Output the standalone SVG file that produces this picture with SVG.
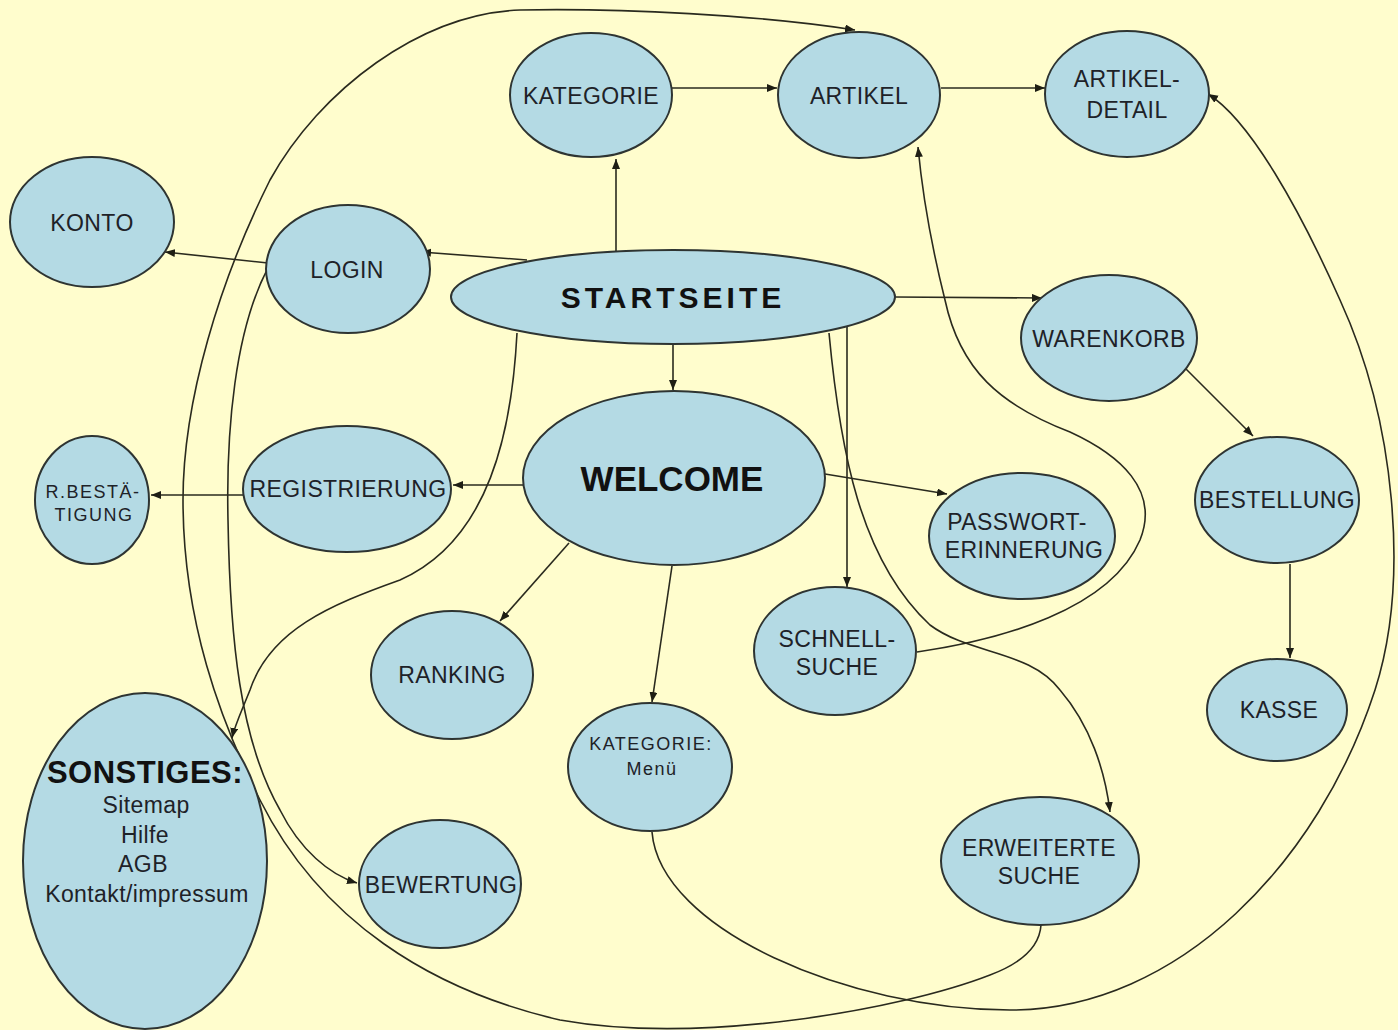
<svg xmlns="http://www.w3.org/2000/svg" width="1398" height="1030" viewBox="0 0 1398 1030">
<style>
.n{fill:#B4DAE4;stroke:#2E3432;stroke-width:2}
.t{font-family:"Liberation Sans",Arial,sans-serif;font-size:23px;fill:#1E2228;text-anchor:middle;letter-spacing:0.4px}
.s{font-size:18px;letter-spacing:1.5px}
.b{font-weight:bold;fill:#111111}
.c{fill:none;stroke:#2A2A1E;stroke-width:1.6}
</style>
<defs>
<marker id="ah" markerUnits="userSpaceOnUse" markerWidth="11" markerHeight="9" refX="10" refY="4" orient="auto">
<path d="M0,0 L10,4 L0,8 z" fill="#1E1E14"/>
</marker>
</defs>
<rect width="1398" height="1030" fill="#FFFDCD"/>
<g id="connectors" class="c" marker-end="url(#ah)">
<path d="M616 251 L616 159"/>
<path d="M672 88 L777 88"/>
<path d="M941 88 L1045 88"/>
<path d="M527 260 L421 252"/>
<path d="M268 263 L165 252"/>
<path d="M673 344 L673 390"/>
<path d="M895 297 L1042 298"/>
<path d="M1183 366 L1253 436"/>
<path d="M1290 564 L1290 658"/>
<path d="M523 485 L453 485"/>
<path d="M245 495 L151 495"/>
<path d="M569 543 L500 621"/>
<path d="M672 566 L652 702"/>
<path d="M825 474 L947 494"/>
<path d="M847 321 L847 587"/>
<path d="M1041 925 C1040 940 1030 960 990 975 C900 1010 700 1045 560 1020 C430 990 320 920 260 800 C220 720 183 620 183 500 C183 400 220 280 270 180 C320 90 420 14 520 10 C620 8 760 15 855 30"/>
<path d="M268 268 C235 330 226 430 228 520 C230 640 240 740 280 810 C300 850 330 875 357 883"/>
<path d="M517 333 C512 430 490 540 400 580 C330 605 270 630 250 690 C240 715 235 725 232 738"/>
<path d="M917 652 C1000 640 1110 610 1140 540 C1160 490 1120 455 1070 432 C1000 405 960 370 945 300 C930 240 922 190 918 147"/>
<path d="M829 333 C840 450 860 560 930 625 C970 655 1030 650 1060 690 C1090 725 1105 770 1110 812"/>
<path d="M652 832 C660 930 850 1010 1010 1010 C1180 1010 1320 860 1375 690 C1410 580 1395 420 1340 300 C1300 210 1250 120 1208 94"/>
</g>
<g id="kategorie"><ellipse class="n" cx="591" cy="95" rx="81" ry="62"/><text class="t" x="591" y="104">KATEGORIE</text></g>
<g id="artikel"><ellipse class="n" cx="859" cy="95" rx="81" ry="63"/><text class="t" x="859" y="104">ARTIKEL</text></g>
<g id="artikel-detail"><ellipse class="n" cx="1127" cy="94" rx="82" ry="63"/><text class="t" x="1127" y="87">ARTIKEL-</text><text class="t" x="1127" y="118">DETAIL</text></g>
<g id="konto"><ellipse class="n" cx="92" cy="222" rx="82" ry="65"/><text class="t" x="92" y="231">KONTO</text></g>
<g id="login"><ellipse class="n" cx="348" cy="269" rx="82" ry="64"/><text class="t" x="347" y="278">LOGIN</text></g>
<g id="startseite"><ellipse class="n" cx="673" cy="297" rx="222" ry="47"/><text class="t b" x="673" y="308" style="font-size:30px;letter-spacing:4px">STARTSEITE</text></g>
<g id="warenkorb"><ellipse class="n" cx="1109" cy="338" rx="88" ry="63"/><text class="t" x="1109" y="347">WARENKORB</text></g>
<g id="welcome"><ellipse class="n" cx="674" cy="478" rx="151" ry="87"/><text class="t b" x="672" y="491" style="font-size:35px;letter-spacing:0">WELCOME</text></g>
<g id="registrierung"><ellipse class="n" cx="347" cy="489" rx="104" ry="63"/><text class="t" x="348" y="497">REGISTRIERUNG</text></g>
<g id="r-bestaetigung"><ellipse class="n" cx="92" cy="500" rx="57" ry="64"/><text class="t s" x="93" y="498">R.BESTÄ-</text><text class="t s" x="94" y="521">TIGUNG</text></g>
<g id="passwort-erinnerung"><ellipse class="n" cx="1022" cy="536" rx="93" ry="63"/><text class="t" x="1017" y="530">PASSWORT-</text><text class="t" x="1024" y="558">ERINNERUNG</text></g>
<g id="bestellung"><ellipse class="n" cx="1277" cy="500" rx="82" ry="63"/><text class="t" x="1277" y="508">BESTELLUNG</text></g>
<g id="schnell-suche"><ellipse class="n" cx="835" cy="651" rx="81" ry="64"/><text class="t" x="837" y="647">SCHNELL-</text><text class="t" x="837" y="675">SUCHE</text></g>
<g id="ranking"><ellipse class="n" cx="452" cy="675" rx="81" ry="64"/><text class="t" x="452" y="683">RANKING</text></g>
<g id="kasse"><ellipse class="n" cx="1277" cy="710" rx="70" ry="51"/><text class="t" x="1279" y="718">KASSE</text></g>
<g id="kategorie-menue"><ellipse class="n" cx="650" cy="767" rx="82" ry="64"/><text class="t s" x="651" y="750">KATEGORIE:</text><text class="t s" x="652" y="775">Menü</text></g>
<g id="erweiterte-suche"><ellipse class="n" cx="1040" cy="861" rx="99" ry="64"/><text class="t" x="1039" y="856">ERWEITERTE</text><text class="t" x="1039" y="884">SUCHE</text></g>
<g id="bewertung"><ellipse class="n" cx="440" cy="884" rx="81" ry="64"/><text class="t" x="441" y="893">BEWERTUNG</text></g>
<g id="sonstiges"><ellipse class="n" cx="145" cy="861" rx="122" ry="168"/><text class="t b" x="145" y="783" style="font-size:31px;letter-spacing:0.5px">SONSTIGES:</text><text class="t" x="146" y="813">Sitemap</text><text class="t" x="145" y="843">Hilfe</text><text class="t" x="143" y="872">AGB</text><text class="t" x="147" y="902">Kontakt/impressum</text></g>
</svg>
